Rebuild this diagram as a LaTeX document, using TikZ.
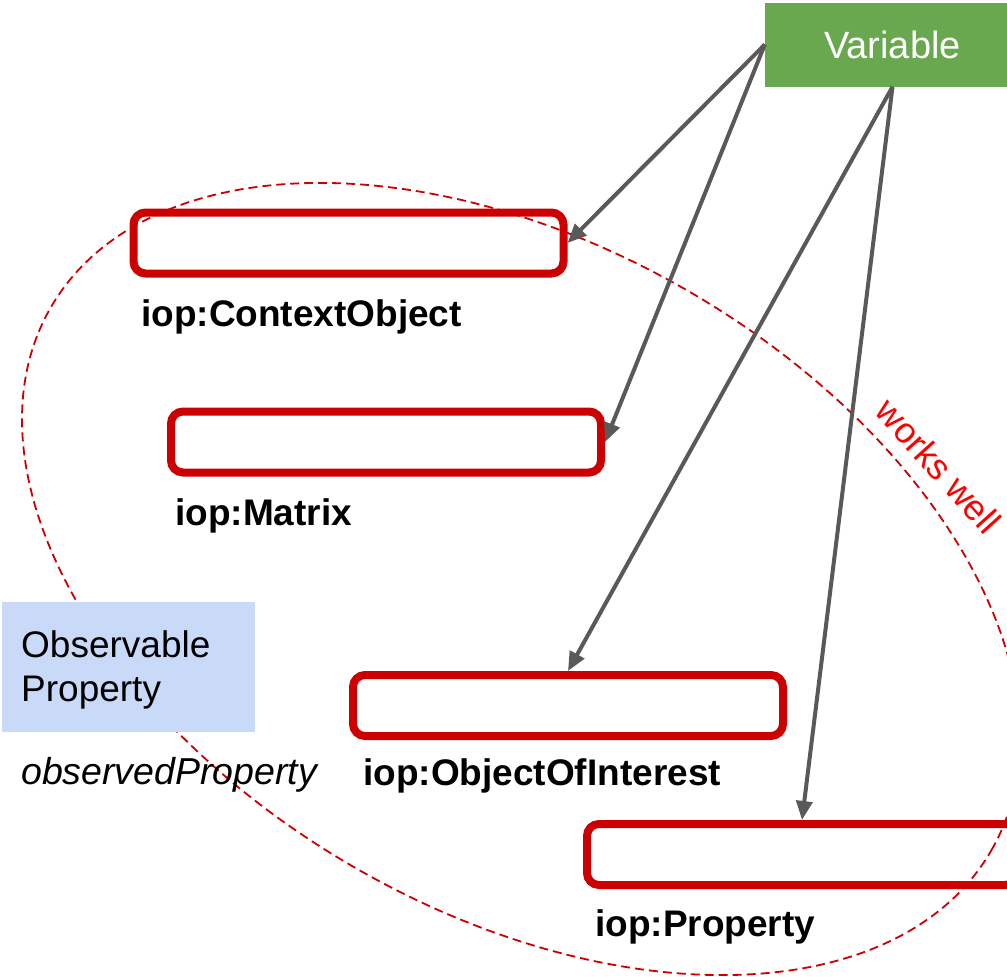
\documentclass[tikz,border=0pt]{standalone}
\usepackage{fontspec}
\setmainfont{Liberation Sans}
\usetikzlibrary{arrows.meta}
\definecolor{boxred}{HTML}{CC0000}
\definecolor{vargreen}{HTML}{6AA84F}
\definecolor{opblue}{HTML}{C9DAF8}
\definecolor{arrgray}{HTML}{595959}
\definecolor{wellred}{HTML}{FF0000}
\begin{document}
\begin{tikzpicture}[x=1pt,y=1pt,
  iopbox/.style={draw=boxred, line width=8pt, rounded corners=12pt, minimum width=430pt, minimum height=61pt, inner sep=0pt},
  lbl/.style={anchor=base west, inner sep=0pt, font=\fontsize{37}{44}\selectfont\bfseries},
  plain/.style={anchor=base west, inner sep=0pt, font=\fontsize{37}{44}\selectfont},
  arr/.style={draw=arrgray, line width=4pt, -{Triangle[length=19pt,width=16pt]}},
  scopeline/.style={draw=boxred, line width=1.8pt, dash pattern=on 9pt off 5pt}
]
\useasboundingbox (0,0) rectangle (1007,-977);
\clip (0,0) rectangle (1007,-977);

% dashed scope ellipse
\draw[scopeline, rotate around={-30:(521,-579)}] (521,-579) ellipse [x radius=543, y radius=333];

% red boxes
\node[iopbox] (ctx) at (348.5,-243) {};
\node[iopbox] (mat) at (386,-442) {};
\node[iopbox] (ooi) at (568,-705.5) {};
\node[iopbox] (prop) at (802,-854.5) {};

% labels
\node[lbl] (ctxl) at (141,-326) {iop:ContextObject};
\node[lbl] (matl) at (175,-525) {iop:Matrix};
\node[lbl] (ooil) at (363,-785) {iop:ObjectOfInterest};
\node[lbl] (propl) at (595,-936) {iop:Property};

% observable property
\node[fill=opblue, anchor=north west, minimum width=253pt, minimum height=130pt, inner sep=0pt] (op) at (2,-602) {};
\node[plain] (op1) at (21,-657) {Observable};
\node[plain] (op2) at (21,-701) {Property};
\node[plain, font=\fontsize{37.5}{44}\selectfont\itshape] (obs) at (21,-784) {observedProperty};

% works well
\node[text=wellred, rotate=-48, inner sep=0pt, font=\fontsize{36}{42}\selectfont] (ww) at (939,-466) {works well};

% variable
\node[fill=vargreen, text=white, minimum width=255pt, minimum height=84pt, inner sep=0pt, font=\fontsize{38}{44}\selectfont] (var) at (892.5,-44.5) {Variable};

% arrows
\draw[arr] (var.west) -- (ctx.east);
\draw[arr] (var.west) -- (mat.east);
\draw[arr] (var.south) -- (ooi.north);
\draw[arr] (var.south) -- (prop.north);
\end{tikzpicture}
\end{document}
